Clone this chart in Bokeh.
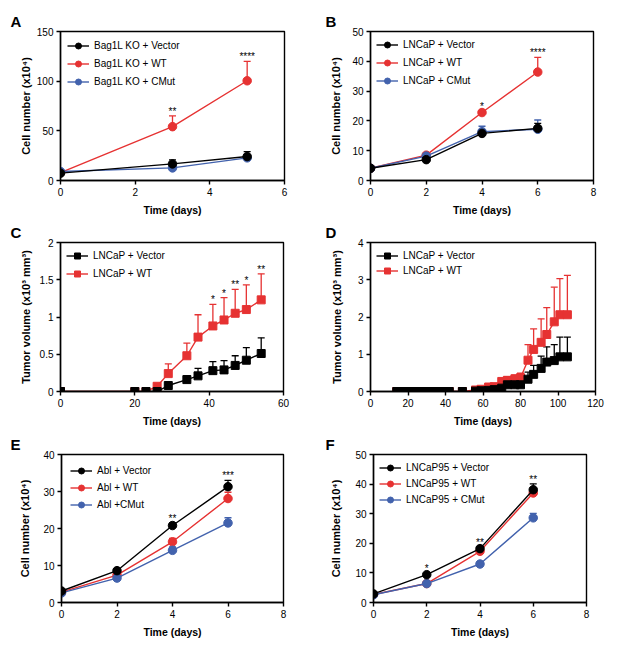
from bokeh.plotting import figure
from bokeh.models import (Range1d, FixedTicker, Legend, LegendItem, Whisker,
                          ColumnDataSource, TeeHead, NumeralTickFormatter, Title)
from bokeh.layouts import column, row
from bokeh.embed import file_html
from bokeh.resources import INLINE
from bokeh.core.properties import value

FONT = "Liberation Sans"
BLACK = "#000000"
RED = "#e63232"
BLUE = "#4262ad"

# ---------------- data ----------------
# Panel A
a_days = [0, 3, 5]
a_vector = [7.4, 16.7, 24.1]
a_vector_err = [1.5, 4.1, 5.0]
a_wt = [8.0, 54.2, 100.4]
a_wt_err = [1.5, 10.8, 19.6]
a_cmut = [9.0, 12.7, 22.8]
a_cmut_err = [2.0, 1.5, 2.0]
a_star_x = [3, 5]
a_star_txt = ["**", "****"]

# Panel B
b_days = [0, 2, 4, 6]
b_vector = [4.1, 7.0, 15.8, 17.5]
b_vector_err = [0.3, 0.4, 0.6, 1.7]
b_wt = [4.1, 8.5, 22.8, 36.4]
b_wt_err = [0.3, 0.4, 0.5, 4.9]
b_cmut = [4.1, 8.2, 16.4, 17.2]
b_cmut_err = [0.3, 0.4, 1.8, 3.1]
b_star_x = [4, 6]
b_star_txt = ["*", "****"]

# Panel C
c_days = [0, 20, 23, 26, 29, 34, 37, 41, 44, 47, 50, 54]
c_vector = [0, 0, 0, 0, 0.08, 0.16, 0.21, 0.28, 0.29, 0.35, 0.42, 0.51]
c_vector_err = [0, 0, 0, 0, 0.02, 0.05, 0.10, 0.12, 0.125, 0.13, 0.17, 0.21]
c_wt = [0, 0, 0, 0.07, 0.24, 0.48, 0.73, 0.88, 0.96, 1.05, 1.10, 1.23]
c_wt_err = [0, 0, 0, 0.01, 0.13, 0.17, 0.30, 0.29, 0.30, 0.32, 0.33, 0.35]
c_star_x = [41, 44, 47, 50, 54]
c_star_txt = ["*", "*", "**", "*", "**"]

# Panel D
d_days = [14, 17, 21, 24, 28, 31, 35, 38, 42, 49, 56, 59, 63, 66, 70, 73, 77,
          80, 84, 87, 91, 94, 98, 101, 105]
d_vector = [0, 0, 0, 0, 0, 0, 0, 0, 0, 0, 0.01, 0.02, 0.03, 0.05, 0.09, 0.18,
            0.18, 0.18, 0.33, 0.46, 0.62, 0.79, 0.83, 0.93, 0.93]
d_vector_err = [0, 0, 0, 0, 0, 0, 0, 0, 0, 0, 0.01, 0.01, 0.02, 0.03, 0.05,
                0.07, 0.08, 0.10, 0.19, 0.24, 0.33, 0.41, 0.43, 0.53, 0.53]
d_wt = [0, 0, 0, 0, 0, 0, 0, 0, 0, 0, 0.04, 0.06, 0.12, 0.13, 0.27, 0.30, 0.34,
        0.37, 0.84, 1.13, 1.32, 1.53, 1.87, 2.06, 2.06]
d_wt_err = [0, 0, 0, 0, 0, 0, 0, 0, 0, 0, 0.02, 0.03, 0.05, 0.06, 0.08, 0.10,
            0.10, 0.12, 0.42, 0.55, 0.63, 0.72, 0.93, 0.97, 1.06]

# Panel E
e_days = [0, 2, 4, 6]
e_vector = [3.1, 8.6, 20.8, 31.3]
e_vector_err = [0.3, 0.4, 0.7, 1.7]
e_wt = [2.8, 7.4, 16.4, 28.1]
e_wt_err = [0.3, 0.4, 0.9, 1.7]
e_cmut = [2.6, 6.6, 14.1, 21.5]
e_cmut_err = [0.3, 0.4, 0.9, 1.4]
e_star_x = [4, 6]
e_star_txt = ["**", "***"]

# Panel F
f_days = [0, 2, 4, 6]
f_vector = [2.9, 9.4, 18.2, 38.1]
f_vector_err = [0.3, 0.4, 0.6, 2.0]
f_wt = [2.7, 6.4, 17.3, 37.0]
f_wt_err = [0.3, 0.4, 0.5, 0.6]
f_cmut = [2.6, 6.4, 13.0, 28.6]
f_cmut_err = [0.3, 0.4, 0.5, 1.5]
f_star_x = [2, 4, 6]
f_star_txt = ["*", "**", "**"]

CELL_LABEL = "Cell number (x10\u2074)"
TUMOR_LABEL = "Tumor volume (x10\u00b3 mm\u00b3)"
TIME_LABEL = "Time (days)"


def make_panel(letter, series, xmax, xticks, ymax, yticks, ylabel, marker,
               stars, borders, frame, ylab_standoff, letter_offset,
               leg_margin, leg_spacing, yfmt=None):
    left, right, top, bottom = borders
    fw, fh = frame
    p = figure(frame_width=fw, frame_height=fh,
               min_border_left=left, min_border_right=right,
               min_border_top=top, min_border_bottom=bottom,
               x_range=Range1d(0, xmax), y_range=Range1d(0, ymax),
               output_backend="svg", toolbar_location=None)
    p.title = Title(text=letter, text_font=FONT, text_font_style="bold",
                    text_font_size="15px", text_color="black", align="left",
                    offset=letter_offset, standoff=3)
    p.xgrid.visible = False
    p.ygrid.visible = False
    p.outline_line_color = "black"
    p.outline_line_width = 1.4
    p.background_fill_color = "white"
    p.border_fill_color = "white"

    for ax in (p.xaxis[0], p.yaxis[0]):
        ax.axis_line_width = 1.4
        ax.axis_line_color = "black"
        ax.major_tick_line_width = 1.4
        ax.major_tick_in = 0
        ax.major_tick_out = 4
        ax.minor_tick_line_color = None
        ax.major_label_text_font = FONT
        ax.major_label_text_font_size = "10px"
        ax.major_label_text_color = "black"
        ax.major_label_standoff = 3
        ax.axis_label_text_font = FONT
        ax.axis_label_text_font_style = "bold"
        ax.axis_label_text_color = "black"
    p.xaxis[0].axis_label_text_font_size = "10.5px"
    p.yaxis[0].axis_label_text_font_size = "11px"
    p.xaxis[0].ticker = FixedTicker(ticks=xticks)
    p.yaxis[0].ticker = FixedTicker(ticks=yticks)
    if yfmt is not None:
        p.yaxis[0].formatter = NumeralTickFormatter(format=yfmt)
    p.xaxis[0].axis_label = TIME_LABEL
    p.xaxis[0].axis_label_standoff = 5
    p.yaxis[0].axis_label = ylabel
    p.yaxis[0].axis_label_standoff = ylab_standoff

    items = []
    tops = {}
    draw = {}
    for (name, days, vals, errs, color) in series:
        ln = p.line(days, vals, line_color=color, line_width=1.4)
        sc = p.scatter(days, vals, marker=marker, size=8.5 if marker == "circle" else 8,
                       fill_color=color, line_color=color)
        draw[name] = (ln, sc)
        bx = [d for d, e in zip(days, errs) if e > 0]
        bl = [v for v, e in zip(vals, errs) if e > 0]
        bu = [v + e for v, e in zip(vals, errs) if e > 0]
        src = ColumnDataSource(dict(x=bx, lower=bl, upper=bu))
        w = Whisker(base="x", lower="lower", upper="upper", source=src,
                    line_color=color, line_width=1.3, lower_head=None,
                    upper_head=TeeHead(size=7, line_color=color, line_width=1.3))
        p.add_layout(w)
        for d, v, e in zip(days, vals, errs):
            tops[d] = max(tops.get(d, 0), v + e)

    order = [s[0] for s in series]
    order_sorted = sorted(order, key=lambda n: 0 if "Vector" in n else (1 if "WT" in n else 2))
    for name in order_sorted:
        items.append(LegendItem(label=name, renderers=list(draw[name])))
    leg = Legend(items=items, location="top_left", border_line_color=None,
                 background_fill_alpha=0, label_text_font=FONT,
                 label_text_font_size="10px", label_text_color="black",
                 glyph_width=22, glyph_height=15, label_height=15,
                 spacing=leg_spacing, padding=0, margin=leg_margin, label_standoff=5)
    p.add_layout(leg)

    if stars:
        sx, stxt = stars
        sy = [tops[x] for x in sx]
        p.text(x=sx, y=sy, text=stxt, text_font=value(FONT), text_font_size="10px",
               text_align="center", text_baseline="bottom", y_offset=1,
               text_color="black")
    return p


pA = make_panel("A",
                [("Bag1L KO + WT", a_days, a_wt, a_wt_err, RED),
                 ("Bag1L KO + CMut", a_days, a_cmut, a_cmut_err, BLUE),
                 ("Bag1L KO + Vector", a_days, a_vector, a_vector_err, BLACK)],
                6, [0, 2, 4, 6], 150, [0, 50, 100, 150], CELL_LABEL, "circle",
                (a_star_x, a_star_txt), (60, 24, 31, 38), (224, 149), 2, -50,
                7, 3)

pB = make_panel("B",
                [("LNCaP + WT", b_days, b_wt, b_wt_err, RED),
                 ("LNCaP + CMut", b_days, b_cmut, b_cmut_err, BLUE),
                 ("LNCaP + Vector", b_days, b_vector, b_vector_err, BLACK)],
                8, [0, 2, 4, 6, 8], 50, [0, 10, 20, 30, 40, 50], CELL_LABEL, "circle",
                (b_star_x, b_star_txt), (62, 22, 31, 38), (223, 149), 7, -45,
                6, 3)

pC = make_panel("C",
                [("LNCaP + WT", c_days, c_wt, c_wt_err, RED),
                 ("LNCaP + Vector", c_days, c_vector, c_vector_err, BLACK)],
                60, [0, 20, 40, 60], 2, [0, 0.5, 1, 1.5, 2], TUMOR_LABEL, "square",
                (c_star_x, c_star_txt), (60, 25, 24, 37), (223, 149), 5, -50,
                6, 3, yfmt="0.[0]")

pD = make_panel("D",
                [("LNCaP + WT", d_days, d_wt, d_wt_err, RED),
                 ("LNCaP + Vector", d_days, d_vector, d_vector_err, BLACK)],
                120, [0, 20, 40, 60, 80, 100, 120], 4, [0, 1, 2, 3, 4], TUMOR_LABEL, "square",
                None, (62, 20, 24, 37), (225, 149), 12, -45,
                6, 0)

pE = make_panel("E",
                [("Abl + WT", e_days, e_wt, e_wt_err, RED),
                 ("Abl +CMut", e_days, e_cmut, e_cmut_err, BLUE),
                 ("Abl + Vector", e_days, e_vector, e_vector_err, BLACK)],
                8, [0, 2, 4, 6, 8], 40, [0, 10, 20, 30, 40], CELL_LABEL, "circle",
                (e_star_x, e_star_txt), (61, 25, 23, 45), (222, 148), 9, -51,
                9, 2)

pF = make_panel("F",
                [("LNCaP95 + WT", f_days, f_wt, f_wt_err, RED),
                 ("LNCaP95 + CMut", f_days, f_cmut, f_cmut_err, BLUE),
                 ("LNCaP95 + Vector", f_days, f_vector, f_vector_err, BLACK)],
                8, [0, 2, 4, 6, 8], 50, [0, 10, 20, 30, 40, 50], CELL_LABEL, "circle",
                (f_star_x, f_star_txt), (65, 29, 25, 43), (213, 148), 10, -48,
                6, 1)

layout = column(row(pA, pB, spacing=0), row(pC, pD, spacing=0),
                row(pE, pF, spacing=0), spacing=0)

open("out.html", "w").write(file_html(layout, INLINE))
